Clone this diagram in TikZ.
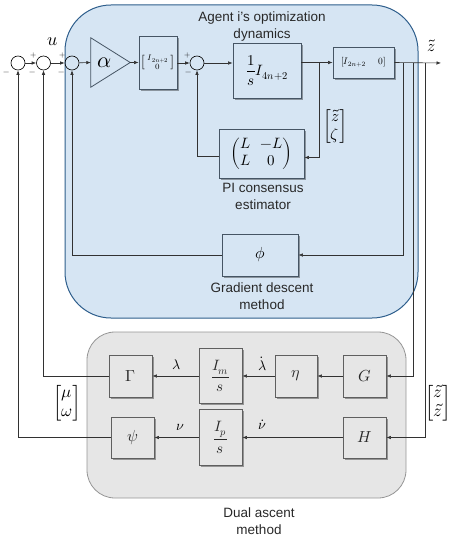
\documentclass[tikz,border=0pt]{standalone}
\usepackage{amsmath}
\usepackage{fontspec}
\usepackage{unicode-math}
\setmathfont{Latin Modern Math}
\setsansfont{Liberation Sans}
\usetikzlibrary{arrows.meta,shadows}
\definecolor{blueF}{RGB}{214,229,243}
\definecolor{blueD}{RGB}{46,94,140}
\definecolor{grayF}{RGB}{230,230,230}
\definecolor{grayD}{RGB}{150,150,150}
\definecolor{blkB}{RGB}{70,85,100}
\definecolor{blkG}{RGB}{95,95,95}
\definecolor{lineC}{RGB}{50,50,50}
\definecolor{txtC}{RGB}{40,40,40}
\begin{document}
\begin{tikzpicture}[x=1pt,y=-1pt,
  arr/.style={draw=lineC,line width=0.6pt,-{Latex[length=4.5pt,width=3.5pt]}},
  ln/.style={draw=lineC,line width=0.6pt},
  bblk/.style={draw=blkB,fill=blueF,line width=0.8pt,inner sep=0pt,
     drop shadow={shadow xshift=1.8pt,shadow yshift=-1.8pt,opacity=0.35,fill=black}},
  gblk/.style={draw=blkG,fill=grayF,line width=0.8pt,inner sep=0pt,text=txtC,
     drop shadow={shadow xshift=1.8pt,shadow yshift=-1.8pt,opacity=0.35,fill=black}},
  sumc/.style={circle,draw=black,line width=0.6pt,minimum size=14pt,inner sep=0pt},
  pm/.style={font=\fontsize{8}{8}\selectfont,inner sep=0pt},
  lbl/.style={font=\sffamily\fontsize{13.5}{15}\selectfont,text=txtC,inner sep=0pt},
  mlab/.style={inner sep=0pt,font=\fontsize{14}{16}\selectfont},
  bigm/.style={font=\fontsize{16}{16}\selectfont},
  fracm/.style={font=\fontsize{15}{17}\selectfont}]
\useasboundingbox (0,0) rectangle (458,537);
% containers
\draw[fill=blueF,draw=blueD,line width=1pt,rounded corners=46pt] (65,5) rectangle (418,318);
\draw[fill=grayF,draw=grayD,line width=0.8pt,rounded corners=28pt] (87,332) rectangle (406,498);
% titles
\node[lbl] (t1) at (262,18) {Agent i's optimization};
\node[lbl] (t2) at (262,35) {dynamics};
\node[lbl] (t3) at (263,188) {PI consensus};
\node[lbl] (t4) at (263,205) {estimator};
\node[lbl] (t5) at (262,288) {Gradient descent};
\node[lbl] (t6) at (262,305) {method};
\node[lbl] (t7) at (259,513) {Dual ascent};
\node[lbl] (t8) at (259,530) {method};
% sum junctions
\node[sumc] (s1) at (18,63) {};
\node[sumc] (s2) at (43.5,63) {};
\node[sumc] (s3) at (72,63) {};
\node[sumc] (s4) at (197,63) {};
\node[pm] (m1) at (7,73) {$-$};
\node[pm] (p2) at (34,56) {$+$};
\node[pm] (m2) at (33,73) {$-$};
\node[pm] (p3) at (63,56) {$+$};
\node[pm] (m3) at (62,73) {$-$};
\node[pm] (p4) at (188,56) {$+$};
\node[pm] (m4) at (189,73) {$-$};
% gain
\node[minimum width=39pt,minimum height=49pt,inner sep=0pt] (alpha) at (110.5,62.5) {};
\draw[draw=blkB,line width=0.8pt,fill=blueF] (alpha.north west) -- (alpha.east) -- (alpha.south west) -- cycle;
\node[inner sep=0pt,font=\fontsize{22}{22}\selectfont] (alab) at (105,63) {$\alpha$};
% blocks in agent
\node[bblk,minimum width=38pt,minimum height=53pt,font=\fontsize{12}{12}\selectfont] (b1) at (158,62.5)
  {$\left[\begin{smallmatrix} I_{2n+2}\\ 0\end{smallmatrix}\right]$};
\node[bblk,minimum width=68pt,minimum height=55pt,fracm] (b2) at (267,70.5)
  {$\dfrac{1}{s} I_{4n+2}$};
\node[bblk,minimum width=61pt,minimum height=31pt,font=\fontsize{9.5}{10}\selectfont] (b3) at (363.5,62.5)
  {$[I_{2n+2}\quad\ 0]$};
\node[bblk,minimum width=85pt,minimum height=49pt,font=\fontsize{15}{17}\selectfont] (PI) at (261.5,153.5)
  {$\begin{pmatrix} L & -L\\ L & 0\end{pmatrix}$};
\node[bblk,minimum width=76pt,minimum height=42pt,bigm] (phi) at (260,255) {$\phi$};
% blocks in dual
\node[gblk,minimum width=43pt,minimum height=42pt,bigm] (Gam) at (130.5,376) {$\Gamma$};
\node[gblk,minimum width=43pt,minimum height=55pt,fracm] (Im) at (220.5,376) {$\dfrac{I_m}{s}$};
\node[gblk,minimum width=42pt,minimum height=42pt,bigm] (eta) at (296,376) {$\eta$};
\node[gblk,minimum width=43pt,minimum height=42pt,bigm] (G) at (364.5,376) {$G$};
\node[gblk,minimum width=43pt,minimum height=41pt,bigm] (psi) at (132.5,437.5) {$\psi$};
\node[gblk,minimum width=43pt,minimum height=56pt,fracm] (Ip) at (220.5,437.5) {$\dfrac{I_p}{s}$};
\node[gblk,minimum width=43pt,minimum height=41pt,bigm] (H) at (364.5,437.5) {$H$};
% coordinates
\coordinate (out) at (441,63);
\coordinate (ta) at (319,63);
\coordinate (tb) at (403,63);
\coordinate (tc) at (413,63);
\coordinate (td) at (425,63);
% main path
\draw[arr] (s1) -- (s2);
\draw[arr] (s2) -- (s3);
\draw[arr] (s3) -- (alpha.west);
\draw[arr] (alpha.east) -- (alpha.east -| b1.west);
\draw[arr] (b1.east |- s4) -- (s4);
\draw[arr] (s4) -- (s4 -| b2.west);
\draw[arr] (b2.east |- b3) -- (b3.west);
\draw[arr] (b3.east) -- (out);
% feedbacks in agent
\draw[arr] (ta) |- ([yshift=-4pt]PI.east);
\draw[arr] ([yshift=-2.5pt]PI.west) -| (s4.south);
\draw[arr] (tb) |- (phi.east);
\draw[arr] (phi.west) -| (s3.south);
% dual
\draw[arr] (tc) |- (G.east);
\draw[arr] (td) |- (H.east);
\draw[arr] (G) -- (eta);
\draw[arr] (eta) -- (Im);
\draw[arr] (Im) -- (Gam);
\draw[arr] (H) -- (Ip);
\draw[arr] (Ip) -- (psi);
\draw[arr] (Gam.west) -| (s2.south);
\draw[arr] (psi.west) -| (s1.south);
% labels
\node[mlab,font=\fontsize{18}{18}\selectfont] (u) at (53,42) {$u$};
\node[mlab,font=\fontsize{16}{16}\selectfont] (zt) at (431,46) {$\tilde{z}$};
\node[mlab,font=\fontsize{16}{18}\selectfont] (zz) at (335,127) {$\begin{bmatrix}\tilde{z}\\ \zeta\end{bmatrix}$};
\node[mlab] (lam) at (177,365) {$\lambda$};
\node[mlab] (lamd) at (263,364) {$\dot{\lambda}$};
\node[mlab] (nu) at (180,427) {$\nu$};
\node[mlab] (nud) at (262,425) {$\dot{\nu}$};
\node[mlab,font=\fontsize{17}{19}\selectfont] (mw) at (67,403) {$\begin{bmatrix}\mu\\ \omega\end{bmatrix}$};
\node[mlab,font=\fontsize{17}{19}\selectfont] (zz2) at (438,403) {$\begin{bmatrix}\tilde{z}\\ \tilde{z}\end{bmatrix}$};
\end{tikzpicture}
\end{document}
